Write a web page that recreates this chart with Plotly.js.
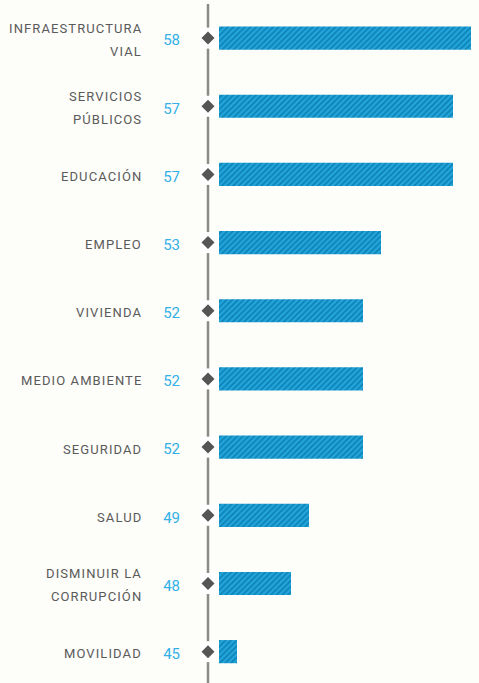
<!DOCTYPE html>
<html>
<head>
<meta charset="utf-8">
<script src="https://cdn.plot.ly/plotly-3.0.1.min.js"></script>
<style>
html,body{margin:0;padding:0;background:#fdfdf9;}
#chart{width:479px;height:683px;}
.annotation-text{letter-spacing:1.1px;}
</style>
</head>
<body>
<div id="chart"></div>
<script>
const categories = [
  "INFRAESTRUCTURA<br>VIAL",
  "SERVICIOS<br>PÚBLICOS",
  "EDUCACIÓN",
  "EMPLEO",
  "VIVIENDA",
  "MEDIO AMBIENTE",
  "SEGURIDAD",
  "SALUD",
  "DISMINUIR LA<br>CORRUPCIÓN",
  "MOVILIDAD"
];
const values = [58, 57, 57, 53, 52, 52, 52, 49, 48, 45];
const axisStart = 44;
const axisEnd = 58;

const W = 479, H = 683;
const mL = 200, mR = 8, mT = 4, mB = 0;
const barLeftPx = 219;
const pxPerUnit = (W - mR - barLeftPx) / (axisEnd - axisStart);
const xMin = axisStart - (barLeftPx - mL) / pxPerUnit;
const plotW = W - mL - mR;
const idx = categories.map((c, i) => i);

const bars = {
  type: 'bar',
  orientation: 'h',
  y: idx,
  x: values.map(v => v - axisStart),
  base: axisStart,
  width: 0.34,
  marker: {
    color: '#22a4da',
    line: {width: 0},
    pattern: {shape: '/', fgcolor: '#0c80b3', bgcolor: '#23a6dc', size: 4, solidity: 0.4, fillmode: 'replace'}
  },
  hoverinfo: 'skip',
  showlegend: false
};

const markerX = xMin + (208 - mL) / pxPerUnit;
const backing = {
  type: 'scatter', mode: 'markers',
  y: idx, x: idx.map(() => markerX),
  marker: {symbol: 'square', size: 21, color: '#ffffff', line: {width: 0}},
  hoverinfo: 'skip', showlegend: false
};
const diamonds = {
  type: 'scatter', mode: 'markers',
  y: idx, x: idx.map(() => markerX),
  marker: {symbol: 'diamond', size: 10, color: '#555555', line: {width: 0}},
  hoverinfo: 'skip', showlegend: false
};

const annotations = [];
const labelX = (144 - mL) / plotW;
categories.forEach((c, i) => {
  const lines = c.split('<br>');
  const n = lines.length;
  lines.forEach((ln, k) => {
    annotations.push({
      xref: 'paper', yref: 'y', x: labelX, y: i,
      text: ln, showarrow: false, xanchor: 'right', yanchor: 'middle',
      yshift: ((n - 1) / 2 - k) * 23 - 2,
      font: {family: 'Roboto, "Noto Sans", sans-serif', size: 13, color: '#5a5a5a'}
    });
  });
});

const layout = {
  width: W, height: H,
  margin: {l: mL, r: mR, t: mT, b: mB},
  paper_bgcolor: '#fdfdf9',
  plot_bgcolor: '#fdfdf9',
  xaxis: {range: [xMin, axisEnd], visible: false, fixedrange: true},
  yaxis: {
    range: [9.46, -0.5], fixedrange: true,
    tickmode: 'array', tickvals: idx, ticktext: values.map(String),
    showgrid: false, zeroline: false, showline: false, ticks: '',
    ticklabelstandoff: 19, ticklabelshift: -2,
    tickfont: {family: 'Roboto, "Noto Sans", sans-serif', size: 15, color: '#33b0e8'}
  },
  shapes: [{
    type: 'line', xref: 'x', yref: 'paper',
    x0: markerX, x1: markerX, y0: -0.01, y1: 1,
    line: {color: '#8a8a8a', width: 2.5}, layer: 'below'
  }],
  annotations: annotations
};

Plotly.newPlot('chart', [bars, backing, diamonds], layout, {displayModeBar: false, staticPlot: true});
</script>
</body>
</html>
